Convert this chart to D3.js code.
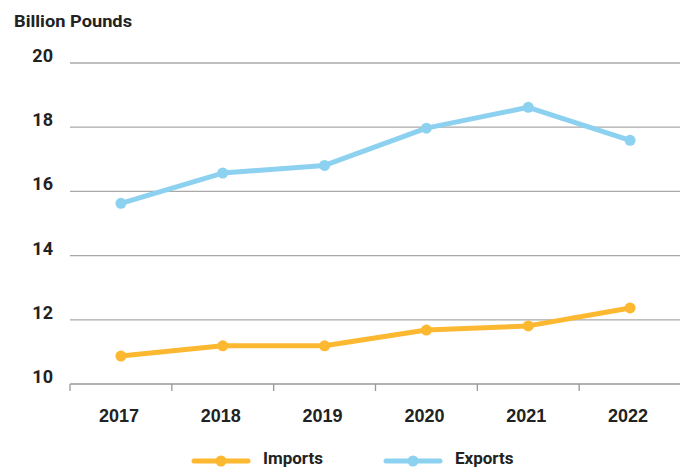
<!DOCTYPE html>
<html>
<head>
<meta charset="utf-8">
<script src="https://cdn.jsdelivr.net/npm/d3@7"></script>
<style>
  html, body { margin: 0; padding: 0; background: #fff; }
  svg { display: block; font-family: Roboto, "Liberation Sans", sans-serif; }
</style>
</head>
<body>
<svg id="chart" width="680" height="469"></svg>
<script>
// Trade volumes, billion pounds
const years = ["2017", "2018", "2019", "2020", "2021", "2022"];
const imports = [10.87, 11.19, 11.19, 11.68, 11.81, 12.37];
const exports = [15.63, 16.57, 16.81, 17.97, 18.62, 17.59];
const yTicks = [10, 12, 14, 16, 18, 20];
const seriesNames = ["Imports", "Exports"];
const seriesColors = ["#fbb830", "#8dd1f0"];

const svg = d3.select("#chart");
const textColor = "#222";

const x = d3.scaleBand().domain(years).range([70, 681]).padding(0);
const y = d3.scaleLinear().domain([10, 20]).range([384, 63]);

// Horizontal gridlines
svg.append("g")
  .selectAll("line")
  .data(yTicks.filter(d => d !== 10))
  .join("line")
  .attr("x1", 70).attr("x2", 680)
  .attr("y1", d => y(d)).attr("y2", d => y(d))
  .attr("stroke", "#a9a9a9").attr("stroke-width", 1.3);

// Y tick labels
svg.append("g")
  .selectAll("text")
  .data(yTicks)
  .join("text")
  .attr("x", 53)
  .attr("y", d => y(d) - 1)
  .attr("text-anchor", "end")
  .attr("font-size", 18)
  .attr("font-weight", 700)
  .attr("fill", textColor)
  .text(d => d);

// Axis title
svg.append("text")
  .attr("x", 14).attr("y", 27)
  .attr("font-size", 17)
  .attr("font-weight", 700)
  .attr("fill", textColor)
  .attr("textLength", 118)
  .attr("lengthAdjust", "spacingAndGlyphs")
  .text("Billion Pounds");

// X axis: baseline with ticks at band boundaries
const xAxis = d3.axisBottom(x).tickSize(0).tickFormat("");
const gx = svg.append("g").attr("transform", "translate(0,384)").call(xAxis);
gx.select(".domain").remove();
gx.append("line")
  .attr("x1", 70).attr("x2", 680)
  .attr("stroke", "#999").attr("stroke-width", 1.3);
gx.selectAll(".bound")
  .data(years)
  .join("line")
  .attr("class", "bound")
  .attr("x1", d => x(d)).attr("x2", d => x(d))
  .attr("y1", 0).attr("y2", 7)
  .attr("stroke", "#999").attr("stroke-width", 1.3);
gx.selectAll(".lbl")
  .data(years)
  .join("text")
  .attr("class", "lbl")
  .attr("x", d => x(d) + x.bandwidth() / 2 - 2)
  .attr("y", 38)
  .attr("text-anchor", "middle")
  .attr("font-size", 18)
  .attr("font-weight", 700)
  .attr("fill", textColor)
  .text(d => d);

// Series lines and points
const line = d3.line()
  .x((d, i) => x(years[i]) + x.bandwidth() / 2)
  .y(d => y(d));

[imports, exports].forEach((vals, s) => {
  const g = svg.append("g");
  g.append("path")
    .datum(vals)
    .attr("d", line)
    .attr("fill", "none")
    .attr("stroke", seriesColors[s])
    .attr("stroke-width", 5)
    .attr("stroke-linejoin", "round");
  g.selectAll("circle")
    .data(vals)
    .join("circle")
    .attr("cx", (d, i) => x(years[i]) + x.bandwidth() / 2)
    .attr("cy", d => y(d))
    .attr("r", 5.5)
    .attr("fill", seriesColors[s]);
});

// Legend
const legendX = [194, 386];
const legend = svg.append("g").attr("transform", "translate(0,461)");
seriesNames.forEach((name, s) => {
  const lg = legend.append("g").attr("transform", `translate(${legendX[s]},0)`);
  lg.append("line")
    .attr("x1", 0).attr("x2", 54)
    .attr("stroke", seriesColors[s]).attr("stroke-width", 5)
    .attr("stroke-linecap", "round");
  lg.append("circle").attr("cx", 27).attr("r", 5.5).attr("fill", seriesColors[s]);
  lg.append("text")
    .attr("x", 69).attr("y", 3)
    .attr("font-size", 17)
    .attr("font-weight", 700)
    .attr("fill", textColor)
    .text(name);
});
</script>
</body>
</html>
